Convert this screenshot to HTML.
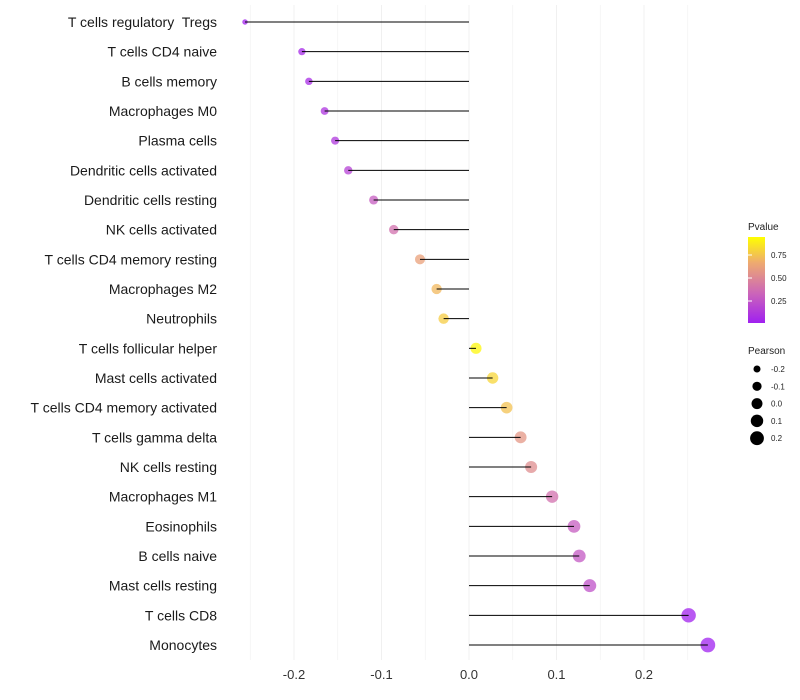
<!DOCTYPE html>
<html><head><meta charset="utf-8"><style>
body{margin:0;background:#fff;font-family:"Liberation Sans",sans-serif}
svg{display:block}
</style></head><body>
<svg id="chart" width="800" height="700">
<defs><linearGradient id="pg" x1="0" y1="1" x2="0" y2="0">
<stop offset="0" stop-color="#a020f0"/><stop offset="0.35" stop-color="#cc66b8"/><stop offset="0.7" stop-color="#eeaa70"/><stop offset="1" stop-color="#ffff00"/></linearGradient></defs>
<g id="grid"></g><g id="marks"></g><g id="yl"></g><g id="xl"></g>
<g font-size="10">
<text x="748" y="230" fill="#222">Pvalue</text>
<rect x="748" y="237" width="17" height="86" fill="url(#pg)"/>
<g id="cbt"></g>
</g>
<g font-size="10">
<text x="748" y="354" fill="#222">Pearson</text>
<g id="szl"></g>
</g>
</svg>
<script>
const categories=["T cells regulatory  Tregs","T cells CD4 naive","B cells memory","Macrophages M0","Plasma cells","Dendritic cells activated","Dendritic cells resting","NK cells activated","T cells CD4 memory resting","Macrophages M2","Neutrophils","T cells follicular helper","Mast cells activated","T cells CD4 memory activated","T cells gamma delta","NK cells resting","Macrophages M1","Eosinophils","B cells naive","Mast cells resting","T cells CD8","Monocytes"];
const pearson=[-0.256,-0.191,-0.183,-0.165,-0.153,-0.138,-0.109,-0.086,-0.056,-0.037,-0.029,0.008,0.027,0.043,0.059,0.071,0.095,0.12,0.126,0.138,0.251,0.273];
const pvalues=[0.01,0.05,0.06,0.1,0.12,0.17,0.3,0.4,0.65,0.75,0.82,0.97,0.85,0.78,0.6,0.55,0.4,0.3,0.28,0.25,0.01,0.003];
const xTicks=[-0.2,-0.1,0.0,0.1,0.2];
const xTickLabels=["-0.2","-0.1","0.0","0.1","0.2"];
const cbTicks=[0.25,0.5,0.75];
const cbTickLabels=["0.25","0.50","0.75"];
const sizeTicks=[-0.2,-0.1,0.0,0.1,0.2];
const sizeTickLabels=["-0.2","-0.1","0.0","0.1","0.2"];

const NS="http://www.w3.org/2000/svg";
const X=v=>469+v*875;
const Y=i=>22+i*(623/21);
const R=v=>Math.sqrt(Math.max(1.5,30+88*v));
function col(p){const st=[[0,[160,32,240]],[0.35,[204,102,184]],[0.7,[238,170,112]],[1,[255,255,0]]];
for(let k=1;k<st.length;k++){if(p<=st[k][0]){const a=st[k-1],b=st[k],t=(p-a[0])/(b[0]-a[0]);return `rgb(${a[1].map((c,j)=>Math.round(c+(b[1][j]-c)*t)).join(",")})`;}}return "rgb(255,255,0)";}
function mk(tag,at,par){const e=document.createElementNS(NS,tag);for(const k in at)e.setAttribute(k,at[k]);document.getElementById(par).appendChild(e);return e;}

for(let v=-0.25;v<=0.2501;v+=0.05){const ln=mk("line",{x1:X(v),x2:X(v),y1:5,y2:660,stroke:"#f0f0f0","stroke-width":Math.abs(Math.round(v*20)%2)===1?0.6:1},"grid");

}
xTicks.forEach((t,i)=>{const e=mk("text",{x:X(t),y:679,"text-anchor":"middle","font-size":13,fill:"#333"},"xl");e.textContent=xTickLabels[i];

});
categories.forEach((c,i)=>{const y=Y(i);
const t=mk("text",{x:217,y:y+5,"text-anchor":"end","font-size":14,fill:"#1a1a1a",style:"white-space:pre"},"yl");t.textContent=c;


const d=mk("circle",{cx:X(pearson[i]),cy:y,r:R(pearson[i]),fill:col(pvalues[i]),"fill-opacity":0.75},"marks");


const l=mk("line",{x1:X(pearson[i]),x2:X(0),y1:y,y2:y,stroke:"#000","stroke-width":1},"marks");

});
cbTicks.forEach((t,i)=>{const y=324-t*92;
const tk=mk("line",{x1:748,x2:752,y1:y,y2:y,stroke:"#fff"},"cbt");


const tx=mk("text",{x:771,y:y+3,"font-size":8,fill:"#222"},"cbt");tx.textContent=cbTickLabels[i];

});
sizeTicks.forEach((t,i)=>{const y=369+i*17.3;
const c=mk("circle",{cx:757,cy:y,r:R(t),fill:"#000"},"szl");


const tx=mk("text",{x:771,y:y+3,"font-size":8,fill:"#222"},"szl");tx.textContent=sizeTickLabels[i];

});
</script>
</body></html>
